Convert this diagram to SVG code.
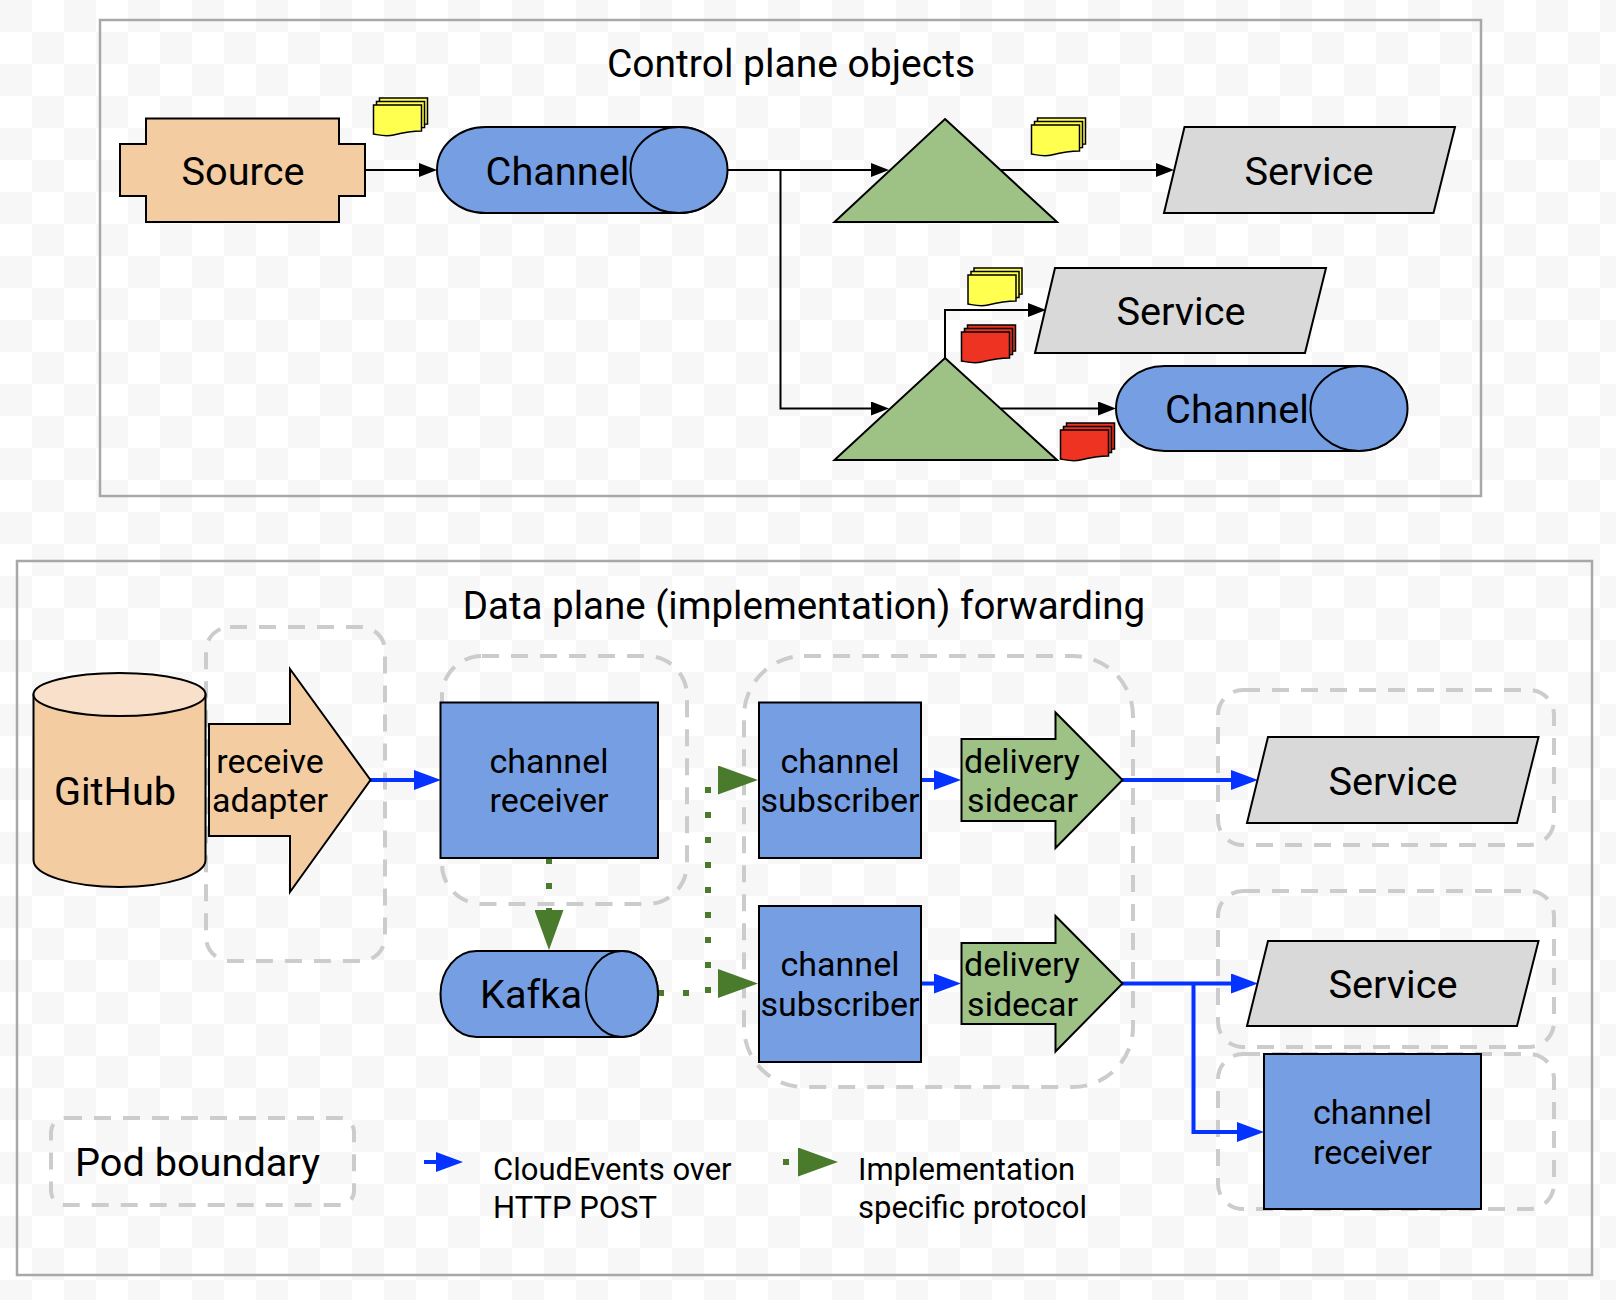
<svg xmlns="http://www.w3.org/2000/svg" width="1616" height="1300" viewBox="0 0 1616 1300">
<style>
text{font-family:Roboto,"Liberation Sans",sans-serif;fill:#000;text-anchor:middle}
.t39{font-size:39.7px}.t33{font-size:34px}.t30{font-size:31px;text-anchor:start}.tt{font-size:39px}.td{font-size:38.5px}
.frame{fill:none;stroke:#a8a8a8;stroke-width:2.5}
.pod{fill:none;stroke:#cccccc;stroke-width:4;stroke-dasharray:17 12}
.s{stroke:#000;stroke-width:2;stroke-linejoin:miter}
.peach{fill:#f3cca2}.blue{fill:#759ee3}.green{fill:#9ec286}.grey{fill:#d9d9d9}
.k{fill:none;stroke:#000;stroke-width:2}
.b{fill:none;stroke:#0433ff;stroke-width:4}
.d{fill:none;stroke:#4a7a2b;stroke-width:6;stroke-dasharray:6 19;stroke-linejoin:round}
.ny{fill:#ffff50;stroke:#000;stroke-width:1.5}.nr{fill:#ee3322;stroke:#000;stroke-width:1.5}
</style>
<defs>
<pattern id="checker" width="64" height="64" patternUnits="userSpaceOnUse">
<rect width="64" height="64" fill="#ffffff"/>
<rect width="32" height="32" fill="#f7f7f7"/>
<rect x="32" y="32" width="32" height="32" fill="#f7f7f7"/>
</pattern>
<marker id="ak" markerUnits="userSpaceOnUse" markerWidth="18" markerHeight="14" viewBox="0 0 18 14" refX="4" refY="7" orient="auto"><path d="M0 0L18 7L0 14Z" fill="#000"/></marker>
<marker id="ab" markerUnits="userSpaceOnUse" markerWidth="27" markerHeight="20" viewBox="0 0 27 20" refX="5" refY="10" orient="auto"><path d="M0 0L27 10L0 20Z" fill="#0433ff"/></marker>
<marker id="ad" markerUnits="userSpaceOnUse" markerWidth="40" markerHeight="29" viewBox="0 0 40 29" refX="0" refY="14.5" orient="auto"><path d="M0 0L40 14.5L0 29Z" fill="#4a7a2b"/></marker>
<path id="note" d="M0 0H48V26C36 26 28 28 20 30C12 32 6 30 0 29Z"/>
<g id="stackY" class="ny"><use href="#note" x="6" y="-7"/><use href="#note" x="3" y="-3.5"/><use href="#note"/></g>
<g id="stackR" class="nr"><use href="#note" x="6" y="-7"/><use href="#note" x="3" y="-3.5"/><use href="#note"/></g>
</defs>
<rect width="1616" height="1300" fill="url(#checker)"/>
<g id="frames">
<rect class="frame" x="100" y="20" width="1381" height="476"/>
<rect class="frame" x="17" y="561" width="1575" height="714"/>
</g>
<text class="tt" x="791" y="77">Control plane objects</text>
<text class="td" x="804" y="619">Data plane (implementation) forwarding</text>
<g id="pods">
<rect class="pod" x="206" y="627" width="179" height="334" rx="24"/>
<rect class="pod" x="442" y="656" width="245" height="248" rx="40"/>
<rect class="pod" x="744" y="656" width="389" height="431" rx="60"/>
<rect class="pod" x="1218" y="690" width="336" height="155" rx="25"/>
<rect class="pod" x="1218" y="891" width="336" height="156" rx="25"/>
<rect class="pod" x="1218" y="1054" width="336" height="155" rx="25"/>
<rect class="pod" x="51" y="1118" width="303" height="87" rx="14"/>
</g>
<g id="connectors">
<path class="k" d="M365 170H423" marker-end="url(#ak)"/>
<path class="k" d="M727 170H875" marker-end="url(#ak)"/>
<path class="k" d="M780.5 170V408.5H875" marker-end="url(#ak)"/>
<path class="k" d="M1001 170H1160" marker-end="url(#ak)"/>
<path class="k" d="M945 358V310H1032" marker-end="url(#ak)"/>
<path class="k" d="M1001 408.5H1102" marker-end="url(#ak)"/>
<path class="b" d="M370 780H419" marker-end="url(#ab)"/>
<path class="b" d="M921 780H939" marker-end="url(#ab)"/>
<path class="b" d="M921 983.5H939" marker-end="url(#ab)"/>
<path class="b" d="M1122 780H1236" marker-end="url(#ab)"/>
<path class="b" d="M1122 983.5H1236" marker-end="url(#ab)"/>
<path class="b" d="M1193.5 983.5V1132H1242" marker-end="url(#ab)"/>
<path class="d" d="M549 858V910" marker-end="url(#ad)"/>
<path class="d" d="M658 993H708V780H718" marker-end="url(#ad)"/>
<path class="d" d="M658 993H708V983.5H718" marker-end="url(#ad)"/>
</g>
<g id="source"><path class="s peach" d="M120 144H146V118.5H339V144H365V196H339V222H146V196H120Z"/><text class="t39" x="243" y="185">Source</text></g>
<g id="channel-1"><rect class="s blue" x="437" y="127" width="290" height="86" rx="48.5" ry="43"/><ellipse class="s blue" cx="679" cy="170" rx="48.5" ry="43"/><text class="t39" x="557.5" y="185">Channel</text></g>
<g id="trigger-1"><path class="s green" d="M945 119L1057 222H834.5Z"/></g>
<g id="trigger-2"><path class="s green" d="M945 358L1057 460H834.5Z"/></g>
<g id="service-1"><path class="s grey" d="M1184.5 127H1455L1433.5 213H1164Z"/><text class="t39" x="1309" y="185">Service</text></g>
<g id="service-2"><path class="s grey" d="M1055 268H1326L1305 353H1035Z"/><text class="t39" x="1181" y="325">Service</text></g>
<g id="channel-2"><rect class="s blue" x="1116" y="366" width="291" height="85" rx="48.5" ry="42.5"/><ellipse class="s blue" cx="1359" cy="408.5" rx="48.5" ry="42.5"/><text class="t39" x="1237" y="423">Channel</text></g>
<g id="notes">
<use href="#stackY" x="373.5" y="105"/>
<use href="#stackY" x="1031.5" y="125"/>
<use href="#stackY" x="968" y="275"/>
<use href="#stackR" x="961.5" y="332"/>
<use href="#stackR" x="1060.5" y="430"/>
</g>
<g id="github"><path class="s peach" d="M33.5 694.5V860C33.5 875 72 887 119.5 887S205.5 875 205.5 860V694.5Z"/><ellipse class="s" cx="119.5" cy="694.5" rx="86" ry="21.5" fill="#f9e0cb"/><text class="t39" x="115" y="805">GitHub</text></g>
<g id="receive-adapter"><path class="s peach" d="M209 724H290V669L370.5 780L290 892V836H209Z"/><text class="t33" x="270" y="773">receive</text><text class="t33" x="270" y="812">adapter</text></g>
<g id="channel-receiver-1"><rect class="s blue" x="440.5" y="702.5" width="217.5" height="155.5"/><text class="t33" x="549" y="773">channel</text><text class="t33" x="549" y="812">receiver</text></g>
<g id="kafka"><rect class="s blue" x="440.5" y="951" width="217.5" height="86" rx="36" ry="43"/><ellipse class="s blue" cx="622" cy="994" rx="36" ry="43"/><text class="t39" x="531" y="1008">Kafka</text></g>
<g id="channel-subscriber-1"><rect class="s blue" x="759" y="702.5" width="162" height="155.5"/><text class="t33" x="840" y="773">channel</text><text class="t33" x="840" y="812">subscriber</text></g>
<g id="channel-subscriber-2"><rect class="s blue" x="759" y="906" width="162" height="156"/><text class="t33" x="840" y="976">channel</text><text class="t33" x="840" y="1016">subscriber</text></g>
<g id="delivery-sidecar-1"><path class="s green" d="M961.5 739H1055.5V712.5L1122.5 780L1055.5 848V821H961.5Z"/><text class="t33" x="1022" y="773">delivery</text><text class="t33" x="1022.5" y="812">sidecar</text></g>
<g id="delivery-sidecar-2"><path class="s green" d="M961.5 943H1055.5V916L1122.5 983.5L1055.5 1051.5V1024H961.5Z"/><text class="t33" x="1022" y="976">delivery</text><text class="t33" x="1022.5" y="1016">sidecar</text></g>
<g id="service-3"><path class="s grey" d="M1268 737H1538.5L1517 823H1247Z"/><text class="t39" x="1393" y="795">Service</text></g>
<g id="service-4"><path class="s grey" d="M1268 941H1538.5L1517 1026H1247Z"/><text class="t39" x="1393" y="998">Service</text></g>
<g id="channel-receiver-2"><rect class="s blue" x="1264" y="1054" width="217" height="155"/><text class="t33" x="1372.5" y="1124">channel</text><text class="t33" x="1372.5" y="1164">receiver</text></g>
<g id="legend">
<text class="t39" x="197.5" y="1176">Pod boundary</text>
<path class="b" d="M424 1162H441" marker-end="url(#ab)"/>
<text class="t30" x="493" y="1180">CloudEvents over</text>
<text class="t30" x="493" y="1218">HTTP POST</text>
<path class="d" d="M783 1162H798" marker-end="url(#ad)"/>
<text class="t30" x="858" y="1180">Implementation</text>
<text class="t30" x="858" y="1218">specific protocol</text>
</g>
</svg>
